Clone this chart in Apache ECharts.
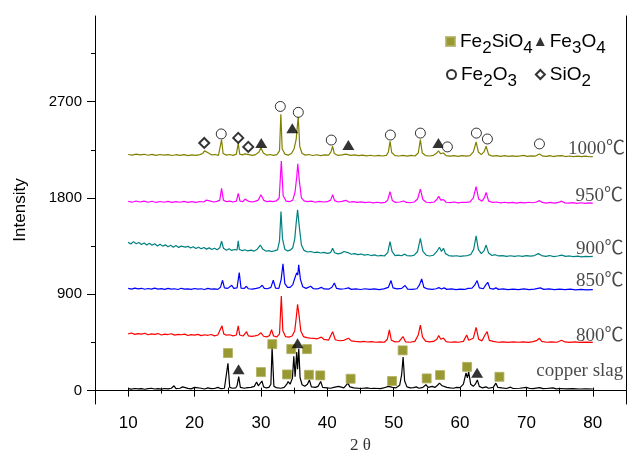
<!DOCTYPE html>
<html lang="en" style="height: 100%">
<head>
<meta charset="UTF-8">
<script src="https://cdn.jsdelivr.net/npm/echarts@6.0.0/dist/echarts.min.js"></script>
</head>
<body style="height: 100%; margin: 0; background: #fff">
<div id="container" style="width: 627px; height: 459px"></div>
<script>
// XRD patterns, [2theta, intensity] (curves already stacked)
var slag = [[10,18],[10.5,14],[11,20],[11.5,16],[12,19],[12.5,13],[13,18],[13.5,22],[14,15],[14.5,19],[15,14],[15.5,20],[16,17],[16.5,22],[16.9,45],[17.2,18],[17.8,22],[18.2,35],[18.5,17],[19,21],[19.5,16],[20,30],[20.3,18],[21,22],[21.5,15],[22,25],[22.5,18],[23,20],[23.5,30],[24,18],[24.5,22],[24.8,40],[25.03,255],[25.3,30],[25.7,22],[26.2,25],[26.4,45],[26.65,130],[26.9,30],[27.5,22],[28,28],[28.5,30],[29,40],[29.35,80],[29.6,45],[29.9,55],[30.15,90],[30.4,35],[30.8,25],[31.2,30],[31.5,60],[31.68,406],[31.95,40],[32.3,28],[33,22],[33.5,30],[33.9,60],[34.1,85],[34.4,60],[34.75,120],[34.95,320],[35.15,130],[35.38,360],[35.52,200],[35.7,390],[35.9,120],[36.2,55],[36.6,40],[37,60],[37.3,100],[37.6,35],[38.2,30],[38.6,40],[39,85],[39.3,30],[40,25],[40.5,22],[41,30],[41.7,40],[42,22],[42.5,25],[43.1,70],[43.4,35],[44,25],[45,20],[46,25],[46.5,20],[47,22],[48,18],[48.5,25],[49.2,40],[49.5,48],[49.8,30],[50.3,25],[50.9,50],[51.2,150],[51.42,314],[51.65,90],[52,35],[52.5,25],[53,28],[53.4,35],[53.8,22],[54.4,30],[54.85,55],[55.2,30],[55.8,40],[56.2,30],[56.6,50],[56.9,70],[57.3,45],[58,30],[58.5,25],[59,22],[59.5,30],[60,28],[60.5,60],[60.9,165],[61.1,120],[61.3,175],[61.6,60],[62,40],[62.3,60],[62.6,100],[62.9,40],[63.4,25],[63.9,35],[64.3,22],[65,30],[65.4,70],[65.7,30],[66.3,25],[67,20],[67.6,32],[68,20],[69,22],[70,30],[70.5,20],[71,18],[72,28],[72.5,18],[73,20],[74,25],[74.5,17],[75,20],[76,16],[77,18],[78,15],[79,17],[80,15]];

var t800 = [[10,530],[10.5,538],[11,525],[11.5,533],[12,528],[12.5,536],[13,522],[13.5,530],[14,526],[14.5,533],[15,520],[15.5,528],[16,524],[16.5,531],[17,518],[17.5,526],[18,522],[18.5,528],[19,515],[19.5,523],[20,519],[20.5,526],[21,514],[21.5,522],[22,517],[22.5,524],[23,512],[23.5,520],[23.8,530],[24.13,606],[24.4,530],[24.8,518],[25.3,522],[25.8,512],[26.3,520],[26.58,606],[26.8,520],[27.3,510],[27.6,520],[27.83,550],[28.1,512],[28.6,506],[29.1,512],[29.6,520],[30,540],[30.4,508],[30.9,502],[31.3,515],[31.6,570],[31.9,510],[32.4,502],[32.8,530],[33.07,883],[33.3,560],[33.7,505],[34.2,500],[34.7,510],[35.1,560],[35.35,700],[35.52,807],[35.75,700],[36,560],[36.4,505],[36.9,495],[37.4,490],[38,488],[38.5,484],[39.1,500],[39.5,478],[40.2,472],[40.8,551],[41.2,475],[41.8,466],[42.5,470],[43.2,490],[43.6,464],[44.2,460],[45,456],[45.5,460],[46,454],[46.7,458],[47.3,452],[48,456],[48.6,452],[49.05,480],[49.35,567],[49.65,470],[50.2,455],[50.8,458],[51.4,505],[51.8,455],[52.5,452],[53.2,460],[53.7,520],[54.02,613],[54.35,500],[54.8,462],[55.4,455],[56,460],[56.5,480],[56.78,514],[57.1,480],[57.5,490],[57.9,458],[58.5,452],[59.2,456],[59.8,452],[60.5,460],[61,520],[61.3,470],[62,490],[62.42,591],[62.8,480],[63.3,465],[63.75,520],[64.08,551],[64.4,470],[65,460],[65.3,470],[65.7,452],[66.5,456],[67.3,450],[68,455],[68.8,452],[69.5,456],[70.3,450],[71,458],[71.6,470],[71.96,489],[72.3,460],[73,452],[73.8,456],[74.6,452],[75.3,470],[75.8,455],[76.5,450],[77.3,455],[78,450],[79,454],[80,450]];

var t850 = [[10,955],[10.5,948],[11,958],[11.5,950],[12,956],[12.5,947],[13,954],[13.5,949],[14,957],[14.5,948],[15,953],[15.5,946],[16,955],[16.5,949],[17,952],[17.5,945],[18,956],[18.5,948],[19,951],[19.5,946],[20,954],[20.5,948],[21,952],[21.5,945],[22,955],[22.5,949],[23,951],[23.5,946],[23.9,965],[24.22,1031],[24.5,960],[25,955],[25.3,965],[25.6,985],[25.9,955],[26.4,960],[26.73,1103],[27,958],[27.5,955],[27.8,975],[28.1,952],[28.7,948],[29.3,955],[29.8,962],[30.2,985],[30.5,955],[31,952],[31.5,965],[31.86,1031],[32.2,958],[32.7,955],[33.05,1040],[33.32,1185],[33.6,1000],[34,965],[34.4,965],[34.8,990],[35.1,1050],[35.38,1100],[35.55,1080],[35.69,1176],[35.95,1040],[36.3,970],[36.8,955],[37.5,975],[37.9,952],[38.5,950],[39.1,965],[39.5,950],[40.2,948],[40.7,965],[41.06,1006],[41.4,955],[42,948],[42.6,952],[43.2,960],[43.6,946],[44.3,950],[45,945],[45.7,952],[46.4,946],[47.1,950],[47.8,944],[48.5,950],[49.2,965],[49.6,1028],[49.9,960],[50.5,950],[51.2,955],[51.72,982],[52.1,948],[52.8,946],[53.5,952],[53.9,990],[54.22,1043],[54.55,965],[55.1,950],[55.8,946],[56.4,952],[56.8,962],[57.2,950],[57.6,960],[58,946],[58.7,950],[59.4,944],[60,948],[60.7,945],[61.2,955],[61.8,958],[62.2,985],[62.57,1028],[62.9,960],[63.5,952],[63.85,985],[64.17,1012],[64.5,955],[65,948],[65.4,960],[65.8,946],[66.5,950],[67.2,944],[68,948],[68.8,944],[69.6,950],[70.4,944],[71.2,948],[72.1,960],[72.6,946],[73.4,950],[74.2,944],[75,948],[75.8,944],[76.6,948],[77.4,942],[78.2,946],[79,941],[80,944]];

var t900 = [[10,1385],[10.4,1370],[10.8,1392],[11.2,1372],[11.6,1384],[12,1365],[12.4,1380],[12.8,1360],[13.2,1376],[13.6,1358],[14,1372],[14.4,1352],[14.8,1368],[15.2,1350],[15.6,1362],[16,1345],[16.4,1358],[16.8,1340],[17.2,1355],[17.6,1338],[18,1350],[18.3,1368],[18.6,1340],[19,1348],[19.4,1332],[19.8,1345],[20.2,1328],[20.6,1340],[21,1325],[21.4,1338],[21.8,1322],[22.2,1334],[22.6,1318],[23,1330],[23.4,1316],[23.8,1335],[24.07,1397],[24.35,1330],[24.8,1312],[25.2,1325],[25.6,1310],[26,1318],[26.4,1314],[26.58,1400],[26.75,1318],[27.2,1308],[27.6,1316],[28,1305],[28.5,1312],[29,1304],[29.4,1318],[29.9,1360],[30.3,1320],[30.8,1302],[31.2,1308],[31.6,1300],[32,1306],[32.5,1315],[32.8,1400],[33.02,1674],[33.25,1420],[33.6,1320],[34,1305],[34.4,1312],[34.8,1335],[35.1,1420],[35.3,1560],[35.52,1689],[35.8,1520],[36.1,1360],[36.5,1310],[37,1295],[37.5,1300],[38,1290],[38.5,1294],[39,1286],[39.5,1292],[40,1282],[40.5,1290],[40.8,1329],[41.1,1288],[41.6,1278],[42.1,1284],[42.5,1300],[42.8,1314],[43.1,1290],[43.6,1274],[44.1,1280],[44.6,1270],[45.1,1276],[45.6,1266],[46.1,1272],[46.6,1262],[47.1,1268],[47.6,1258],[48.1,1264],[48.6,1258],[49.1,1290],[49.45,1391],[49.75,1300],[50.2,1262],[50.7,1266],[51.2,1260],[51.6,1275],[52,1262],[52.6,1258],[53.1,1266],[53.6,1300],[54.02,1422],[54.4,1300],[54.9,1265],[55.4,1258],[56,1265],[56.5,1300],[56.9,1339],[57.2,1300],[57.5,1330],[57.8,1280],[58.3,1262],[58.9,1256],[59.5,1260],[60,1254],[60.6,1258],[61.1,1262],[61.6,1270],[62.05,1320],[62.42,1446],[62.75,1320],[63.2,1280],[63.6,1305],[63.93,1360],[64.3,1285],[64.8,1262],[65.3,1270],[65.8,1258],[66.4,1262],[67,1254],[67.6,1260],[68.2,1255],[68.8,1260],[69.4,1254],[70,1262],[70.6,1256],[71.2,1262],[71.8,1280],[72.3,1262],[72.9,1255],[73.5,1262],[74.1,1252],[74.7,1258],[75.3,1266],[75.9,1254],[76.5,1258],[77.1,1252],[77.7,1256],[78.3,1250],[78.9,1255],[79.5,1252],[80,1254]];

var t950 = [[10,1768],[10.6,1760],[11.2,1772],[11.8,1762],[12.4,1770],[13,1760],[13.6,1769],[14.2,1758],[14.8,1767],[15.4,1760],[16,1768],[16.6,1758],[17.2,1766],[17.8,1760],[18.4,1768],[19,1758],[19.6,1765],[20.2,1759],[20.8,1767],[21.4,1762],[21.8,1780],[22.1,1790],[22.4,1770],[22.9,1762],[23.4,1768],[23.8,1780],[24.07,1889],[24.35,1780],[24.8,1765],[25.3,1770],[25.8,1762],[26.3,1770],[26.58,1843],[26.85,1770],[27.3,1765],[27.6,1790],[27.83,1805],[28.1,1770],[28.6,1762],[29.1,1768],[29.6,1780],[30,1831],[30.4,1780],[30.9,1765],[31.4,1770],[31.8,1766],[32.3,1772],[32.75,1800],[33.07,2145],[33.35,1820],[33.8,1770],[34.3,1765],[34.8,1780],[35.15,1860],[35.4,2000],[35.55,2120],[35.8,1950],[36.1,1800],[36.5,1772],[37,1765],[37.6,1770],[38.2,1760],[38.8,1768],[39.4,1762],[40,1765],[40.5,1780],[40.8,1831],[41.1,1775],[41.6,1762],[42.2,1768],[42.8,1778],[43.3,1760],[43.9,1766],[44.5,1758],[45.1,1764],[45.7,1756],[46.3,1762],[46.9,1754],[47.5,1760],[48.1,1754],[48.7,1758],[49.1,1780],[49.45,1859],[49.8,1775],[50.3,1758],[50.9,1762],[51.5,1772],[51.9,1758],[52.5,1755],[53.1,1762],[53.6,1790],[54.02,1883],[54.4,1785],[54.9,1760],[55.5,1756],[56.1,1762],[56.5,1785],[56.78,1815],[57.1,1780],[57.5,1785],[57.9,1760],[58.5,1756],[59.1,1762],[59.7,1754],[60.3,1760],[60.9,1758],[61.5,1764],[62,1800],[62.42,1905],[62.8,1790],[63.3,1770],[63.65,1800],[63.93,1852],[64.3,1770],[64.9,1758],[65.5,1762],[66.1,1754],[66.7,1760],[67.3,1754],[67.9,1758],[68.5,1752],[69.1,1758],[69.7,1754],[70.3,1760],[70.9,1755],[71.5,1762],[71.96,1775],[72.4,1758],[73,1752],[73.6,1758],[74.2,1752],[74.8,1758],[75.3,1770],[75.8,1754],[76.4,1752],[77,1757],[77.6,1750],[78.2,1755],[78.8,1750],[79.4,1754],[80,1751]];

var t1000 = [[10,2206],[10.6,2200],[11.2,2210],[11.8,2202],[12.4,2208],[13,2199],[13.6,2207],[14.2,2198],[14.8,2206],[15.4,2200],[16,2205],[16.6,2197],[17.2,2204],[17.8,2198],[18.4,2205],[19,2196],[19.6,2203],[20.2,2198],[20.8,2205],[21.2,2215],[21.5,2240],[21.8,2252],[22.1,2220],[22.6,2202],[23.1,2206],[23.6,2198],[23.9,2215],[24.07,2344],[24.3,2215],[24.8,2200],[25.3,2206],[25.8,2198],[26.3,2210],[26.58,2313],[26.8,2210],[27.2,2202],[27.6,2212],[27.9,2225],[28.2,2205],[28.7,2198],[29.2,2205],[29.7,2230],[30,2268],[30.35,2220],[30.9,2200],[31.4,2206],[31.9,2198],[32.4,2205],[32.8,2240],[33,2582],[33.2,2260],[33.6,2210],[34.1,2200],[34.6,2215],[35,2260],[35.3,2345],[35.45,2330],[35.62,2560],[35.85,2280],[36.2,2215],[36.7,2200],[37.2,2206],[37.8,2197],[38.4,2204],[39,2196],[39.6,2203],[40.2,2200],[40.55,2230],[40.8,2283],[41.05,2215],[41.6,2197],[42.2,2203],[42.8,2210],[43.1,2215],[43.5,2198],[44.1,2202],[44.7,2195],[45.3,2200],[45.9,2193],[46.5,2199],[47.1,2192],[47.7,2198],[48.3,2192],[48.9,2198],[49.2,2230],[49.45,2330],[49.7,2225],[50.2,2196],[50.8,2192],[51.4,2198],[52,2191],[52.6,2197],[53.2,2192],[53.7,2220],[54.02,2345],[54.3,2220],[54.8,2196],[55.4,2192],[56,2198],[56.5,2220],[56.75,2240],[57.05,2215],[57.5,2220],[57.9,2196],[58.5,2190],[59.1,2196],[59.7,2189],[60.3,2195],[60.9,2190],[61.5,2196],[62,2230],[62.42,2323],[62.75,2230],[63.2,2205],[63.6,2230],[63.93,2283],[64.3,2205],[64.9,2190],[65.5,2196],[66.1,2189],[66.7,2195],[67.3,2188],[67.9,2194],[68.5,2188],[69.1,2193],[69.6,2198],[70.1,2188],[70.7,2193],[71.3,2190],[71.96,2210],[72.5,2190],[73.1,2188],[73.5,2196],[74,2187],[74.6,2193],[75.3,2196],[75.9,2187],[76.5,2192],[77.1,2186],[77.7,2191],[78.3,2186],[78.9,2190],[79.5,2185],[80,2186]];

// phase markers
var fe2sio4Pts = [[25.03,351],[30.0,173],[31.71,434],[33.93,151],[34.57,388],[36.93,388],[37.23,148],[38.94,142],[43.51,111],[49.76,90],[51.35,376],[54.97,114],[56.99,145],[61.06,222],[65.93,129]];
var fe3o4Pts = [[26.63,200],[35.52,443],[62.57,166],[30.05,2314],[34.72,2452],[43.17,2295],[56.74,2314]];
var fe2o3Pts = [[24.02,2398],[32.92,2655],[35.63,2600],[40.6,2341],[49.5,2388],[54.02,2406],[58.09,2277],[62.46,2406],[64.12,2351],[71.96,2305]];
var sio2Pts = [[21.46,2314],[26.58,2361],[28.09,2277]];

var curveNames = ['copper slag', '800℃', '850℃', '900℃', '950℃', '1000℃'];
var curveData = [slag, t800, t850, t900, t950, t1000];
var curveColors = ['#000000', '#ff0000', '#0000ff', '#008080', '#ff00ff', '#808000'];
// where each curve's name is written
var curveLabelPos = [[71.4,182],[77.4,514],[77.4,1022],[77.4,1326],[77.3,1816],[76.2,2259]];

var xLabelTicks = [10, 20, 30, 40, 50, 60, 70, 80];
var xMinorTicks = [5, 15, 25, 35, 45, 55, 65, 75, 85];
var yLabelTicks = [0, 900, 1800, 2700];
var yMinorTicks = [450, 1350, 2250, 3150];

var dom = document.getElementById("container");
var myChart = echarts.init(dom, null, {renderer: 'canvas'});

function sub(name) {
    // Fe2SiO4 -> rich text with lowered digits
    var s = '{n|' + name.replace(/(\d)/g, '}{s|$1}{n|') + '}';
    return s.replace(/\{n\|\}/g, '');
}
var legendText = {
    fontFamily: 'Liberation Sans', fontSize: 19, color: '#000',
    rich: {
        n: {fontFamily: 'Liberation Sans', fontSize: 19, color: '#000'},
        s: {fontFamily: 'Liberation Sans', fontSize: 17, color: '#000', padding: [14, 0, 0, 0]}
    }
};

var series = [];
curveData.forEach(function (d, i) {
    series.push({
        name: curveNames[i],
        type: 'line',
        data: d,
        symbol: 'none',
        lineStyle: {color: curveColors[i], width: 1.2},
        z: 2
    });
});
series.push({
    name: 'names',
    type: 'scatter',
    symbolSize: 1,
    itemStyle: {color: 'rgba(0,0,0,0)'},
    data: curveLabelPos.map(function (p, i) { return [p[0], p[1], curveNames[i]]; }),
    label: {
        show: true, position: 'right', distance: 0,
        formatter: function (p) { return p.data[2]; },
        fontFamily: "'Liberation Serif', 'Noto Sans CJK SC'", fontSize: 19, color: '#1a1a1a'
    },
    z: 3
});
series.push({
    name: 'Fe2SiO4', type: 'scatter', symbol: 'rect', symbolSize: 9,
    itemStyle: {color: '#7f7f00', borderColor: '#b0b060', borderWidth: 1},
    data: fe2sio4Pts, z: 4
});
series.push({
    name: 'Fe3O4', type: 'scatter', symbol: 'triangle', symbolSize: [12, 10],
    itemStyle: {color: '#000'}, data: fe3o4Pts, z: 4
});
series.push({
    name: 'Fe2O3', type: 'scatter', symbol: 'circle', symbolSize: 10,
    itemStyle: {color: '#fff', borderColor: '#000', borderWidth: 1}, data: fe2o3Pts, z: 4
});
series.push({
    name: 'SiO2', type: 'scatter', symbol: 'diamond', symbolSize: 10,
    itemStyle: {color: '#fff', borderColor: '#000', borderWidth: 2}, data: sio2Pts, z: 4
});

function plain(v) { return String(v); }

var option = {
    backgroundColor: '#fff',
    animation: false,
    grid: {left: 95, right: 1, top: 16, bottom: 50},
    legend: [{
        data: ['Fe2SiO4', 'Fe3O4'],
        left: 440, top: 27, itemGap: 3, itemWidth: 9, itemHeight: 9,
        formatter: sub, textStyle: legendText
    }, {
        data: ['Fe2O3', 'SiO2'],
        left: 441, top: 60, itemGap: 18, itemWidth: 9, itemHeight: 9,
        formatter: sub, textStyle: legendText
    }],
    xAxis: [{
        type: 'value', position: 'bottom', min: 5, max: 85,
        name: '2 θ', nameLocation: 'middle', nameGap: 33,
        nameTextStyle: {fontFamily: 'Liberation Serif', fontSize: 17, color: '#333'},
        axisLine: {lineStyle: {color: '#000', width: 1}},
        axisTick: {customValues: xLabelTicks, length: 6, lineStyle: {color: '#000'}},
        axisLabel: {customValues: xLabelTicks, formatter: plain, fontFamily: 'Liberation Sans', fontSize: 17, color: '#000', margin: 11},
        splitLine: {show: false}
    }, {
        type: 'value', position: 'bottom', min: 5, max: 85,
        axisLine: {show: false},
        axisTick: {customValues: xMinorTicks, length: 3, lineStyle: {color: '#000'}},
        axisLabel: {show: false},
        splitLine: {show: false}
    }, {
        type: 'value', position: 'top', min: 5, max: 85, interval: 5,
        axisLine: {lineStyle: {color: '#000', width: 1}},
        axisTick: {length: 3, lineStyle: {color: '#000'}},
        axisLabel: {show: false},
        splitLine: {show: false}
    }],
    yAxis: [{
        type: 'value', position: 'left', min: -125, max: 3500,
        name: 'Intensity', nameLocation: 'middle', nameGap: 66,
        nameTextStyle: {fontFamily: 'Liberation Sans', fontSize: 17, color: '#000'},
        axisLine: {show: true, lineStyle: {color: '#000', width: 1}},
        axisTick: {show: true, customValues: yLabelTicks, length: 8, lineStyle: {color: '#000'}},
        axisLabel: {customValues: yLabelTicks, formatter: plain, fontFamily: 'Liberation Sans', fontSize: 15, color: '#000', margin: 13},
        splitLine: {show: false}
    }, {
        type: 'value', position: 'left', min: -125, max: 3500,
        axisLine: {show: false},
        axisTick: {show: true, customValues: yMinorTicks, length: 4, lineStyle: {color: '#000'}},
        axisLabel: {show: false},
        splitLine: {show: false}
    }, {
        type: 'value', position: 'right', min: -125, max: 3500,
        axisLine: {show: true, lineStyle: {color: '#000', width: 1}},
        axisTick: {show: false},
        axisLabel: {show: false},
        splitLine: {show: false}
    }],
    series: series
};

myChart.setOption(option);
</script>
</body>
</html>
